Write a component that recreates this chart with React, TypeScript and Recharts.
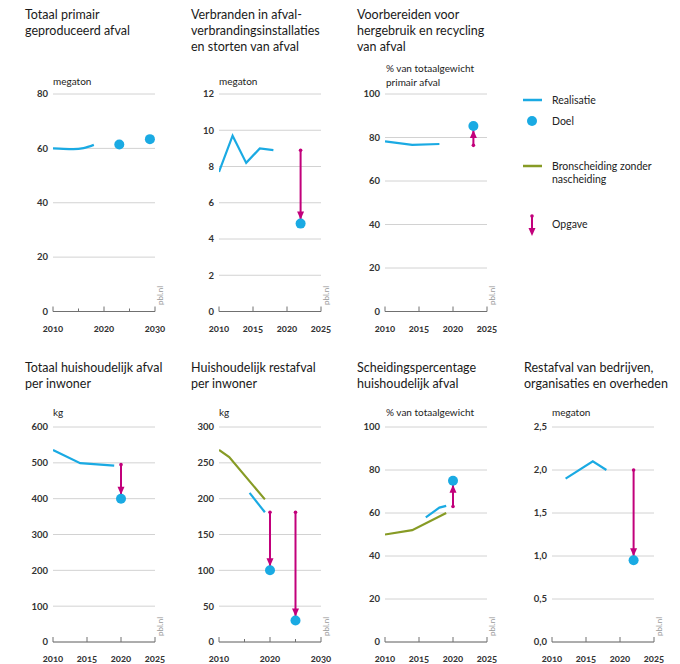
import React from 'react';
import { ComposedChart, Line, XAxis, YAxis, CartesianGrid } from 'recharts';

const BLUE = '#1aaae3';
const GREEN = '#879b25';
const MAGENTA = '#c2007b';
const FONT = 'Lato, "Open Sans", "DejaVu Sans", sans-serif';

// ---- Panel 1: Totaal primair geproduceerd afval (megaton)
const p1RealYears = [2010, 2012, 2014, 2016, 2018];
const p1RealValues = [60, 59.8, 59.7, 60.1, 61.3];
const p1DoelYears = [2023, 2029];
const p1DoelValues = [61.4, 63.4];

// ---- Panel 2: Verbranden in AVI en storten (megaton)
const p2RealYears = [2010, 2012, 2014, 2016, 2018];
const p2RealValues = [7.7, 9.7, 8.2, 9.0, 8.9];
const p2DoelYears = [2022];
const p2DoelValues = [4.85];
const p2Opgave = [{ year: 2022, from: 8.9, to: 4.85 }];

// ---- Panel 3: Voorbereiden voor hergebruik en recycling (%)
const p3RealYears = [2010, 2014, 2018];
const p3RealValues = [78.2, 76.6, 77.0];
const p3DoelYears = [2023];
const p3DoelValues = [85.3];
const p3Opgave = [{ year: 2023, from: 76.4, to: 85.3 }];

// ---- Panel 4: Totaal huishoudelijk afval per inwoner (kg)
const p4RealYears = [2010, 2014, 2019];
const p4RealValues = [536, 499, 492];
const p4DoelYears = [2020];
const p4DoelValues = [400];
const p4Opgave = [{ year: 2020, from: 495, to: 400 }];

// ---- Panel 5: Huishoudelijk restafval per inwoner (kg)
const p5BronYears = [2010, 2012, 2019];
const p5BronValues = [268, 258, 199];
const p5RealYears = [2016, 2019];
const p5RealValues = [208, 181];
const p5DoelYears = [2020, 2025];
const p5DoelValues = [100, 30];
const p5Opgave = [
  { year: 2020, from: 181, to: 100 },
  { year: 2025, from: 181, to: 30 },
];

// ---- Panel 6: Scheidingspercentage huishoudelijk afval (%)
const p6BronYears = [2010, 2014, 2019];
const p6BronValues = [50, 52, 60];
const p6RealYears = [2016, 2018, 2019];
const p6RealValues = [58, 62.5, 63.3];
const p6DoelYears = [2020];
const p6DoelValues = [75];
const p6Opgave = [{ year: 2020, from: 63, to: 75 }];

// ---- Panel 7: Restafval van bedrijven, organisaties en overheden (megaton)
const p7RealYears = [2012, 2016, 2018];
const p7RealValues = [1.9, 2.1, 2.0];
const p7DoelYears = [2022];
const p7DoelValues = [0.95];
const p7Opgave = [{ year: 2022, from: 2.0, to: 0.95 }];

// ---- Axis ticks
const xTicks2030 = [2010, 2015, 2020, 2025, 2030];
const xLabels2030 = [2010, 2020, 2030];
const xTicks2025 = [2010, 2015, 2020, 2025];
const yTicksP1 = [0, 20, 40, 60, 80];
const yTicksP2 = [0, 2, 4, 6, 8, 10, 12];
const yTicksPct = [0, 20, 40, 60, 80, 100];
const yTicksP4 = [0, 100, 200, 300, 400, 500, 600];
const yTicksP5 = [0, 50, 100, 150, 200, 250, 300];
const yTicksP7 = [0, 0.5, 1, 1.5, 2, 2.5];

type Pt = { x: number; y: number };
type Opg = { year: number; from: number; to: number };

const zip = (xs: number[], ys: number[]): Pt[] => xs.map((x, i) => ({ x, y: ys[i] }));

interface PanelProps {
  left: number;
  right: number;
  top: number;
  bottom: number;
  xMax: number;
  xTicks: number[];
  xLabels: number[];
  yMax: number;
  yTicks: number[];
  yFormat?: (v: number) => string;
  real?: Pt[];
  bron?: Pt[];
  doel?: Pt[];
  opgave?: Opg[];
  curve?: 'linear' | 'monotone';
}

function Panel(p: PanelProps) {
  const ML = 45;
  const MR = 22;
  const MT = 10;
  const XH = 24;
  const w = ML + (p.right - p.left) + MR;
  const h = MT + (p.bottom - p.top) + XH;
  const renderXTick = (props: any) => {
    const { x, y, payload } = props;
    const labeled = p.xLabels.includes(payload.value);
    return (
      <g key={`xt-${payload.value}`}>
        <line x1={x} x2={x} y1={y} y2={y - (labeled ? 5 : 3)} stroke="#707070" strokeWidth={1} />
        {labeled && (
          <text
            x={x}
            y={y + 20}
            textAnchor="middle"
            fontSize={9.5}
            fontWeight={700}
            fill="#333"
            fontFamily={FONT}
            style={{ fontVariantNumeric: 'oldstyle-nums' }}
          >
            {payload.value}
          </text>
        )}
      </g>
    );
  };
  const doelDot = (props: any) => {
    const { cx, cy, index } = props;
    return <circle key={`dd-${index}`} cx={cx} cy={cy} r={5} fill={BLUE} stroke="none" />;
  };
  const arrowDot = (props: any) => {
    const { cx, cy, index, payload } = props;
    if (index === 0) {
      return <circle key={`ad-${index}`} cx={cx} cy={cy} r={1.8} fill={MAGENTA} />;
    }
    const dir = payload.dir as number; // 1 = downward, -1 = upward
    const tip = cy - dir * 4;
    const base = cy - dir * 12;
    return (
      <polygon
        key={`ad-${index}`}
        points={`${cx},${tip} ${cx - 3.5},${base} ${cx + 3.5},${base}`}
        fill={MAGENTA}
      />
    );
  };
  return (
    <div style={{ position: 'absolute', left: p.left - ML, top: p.top - MT }}>
      <ComposedChart width={w} height={h} margin={{ top: MT, right: MR, bottom: 0, left: 0 }}>
        <CartesianGrid horizontal vertical={false} stroke="#d2d2d2" strokeWidth={1} />
        <XAxis
          type="number"
          dataKey="x"
          domain={[2010, p.xMax]}
          ticks={p.xTicks}
          interval={0}
          allowDataOverflow
          height={XH}
          axisLine={{ stroke: '#707070', strokeWidth: 1 }}
          tickLine={false}
          tickSize={0}
          tickMargin={0}
          tick={renderXTick}
        />
        <YAxis
          type="number"
          domain={[0, p.yMax]}
          ticks={p.yTicks}
          interval={0}
          allowDataOverflow
          width={ML}
          axisLine={false}
          tickLine={false}
          tickSize={0}
          tickMargin={5}
          tickFormatter={p.yFormat}
          tick={{ fontSize: 9.5, fontWeight: 700, fill: '#333', fontFamily: FONT }}
        />
        {p.bron && (
          <Line
            data={p.bron}
            dataKey="y"
            type="linear"
            stroke={GREEN}
            strokeWidth={2.2}
            dot={false}
            activeDot={false}
            isAnimationActive={false}
          />
        )}
        {p.real && (
          <Line
            data={p.real}
            dataKey="y"
            type={p.curve || 'linear'}
            stroke={BLUE}
            strokeWidth={2.2}
            dot={false}
            activeDot={false}
            isAnimationActive={false}
          />
        )}
        {(p.opgave || []).map((o, i) => (
          <Line
            key={`opg-${i}`}
            data={[
              { x: o.year, y: o.from, dir: o.to < o.from ? 1 : -1 },
              { x: o.year, y: o.to, dir: o.to < o.from ? 1 : -1 },
            ]}
            dataKey="y"
            type="linear"
            stroke={MAGENTA}
            strokeWidth={2}
            dot={arrowDot}
            activeDot={false}
            isAnimationActive={false}
          />
        ))}
        {p.doel && (
          <Line
            data={p.doel}
            dataKey="y"
            type="linear"
            stroke="none"
            dot={doelDot}
            activeDot={false}
            isAnimationActive={false}
          />
        )}
      </ComposedChart>
    </div>
  );
}

const titleStyle = { fontSize: 12.5, fill: '#1a1a1a', fontFamily: FONT };
const unitStyle = { fontSize: 10, fill: '#222', fontFamily: FONT };
const legendStyle = { fontSize: 10.5, fill: '#222', fontFamily: FONT };

function Title({ x, y, lines }: { x: number; y: number; lines: string[] }) {
  return (
    <text x={x} y={y} style={titleStyle}>
      {lines.map((l, i) => (
        <tspan key={i} x={x} y={y + i * 16}>
          {l}
        </tspan>
      ))}
    </text>
  );
}

function Pbl({ x, y }: { x: number; y: number }) {
  return (
    <text
      x={x}
      y={y}
      transform={`rotate(-90 ${x} ${y})`}
      fontSize={8}
      fill="#9a9a9a"
      fontFamily={FONT}
    >
      pbl.nl
    </text>
  );
}

const comma1 = (v: number) => v.toFixed(1).replace('.', ',');

export default function App() {
  const T = 94;
  const B = 311.5;
  const T2 = 427;
  const B2 = 642;
  return (
    <div
      style={{
        position: 'absolute',
        left: 0,
        top: 0,
        width: 680,
        height: 664,
        overflow: 'hidden',
        background: '#fff',
        fontFamily: FONT,
      }}
    >
      <svg width={680} height={664} style={{ position: 'absolute', left: 0, top: 0 }}>
        <Title x={25} y={19} lines={['Totaal primair', 'geproduceerd afval']} />
        <Title x={191} y={19} lines={['Verbranden in afval-', 'verbrandingsinstallaties', 'en storten van afval']} />
        <Title x={357} y={19} lines={['Voorbereiden voor', 'hergebruik en recycling', 'van afval']} />
        <Title x={25} y={372} lines={['Totaal huishoudelijk afval', 'per inwoner']} />
        <Title x={191} y={372} lines={['Huishoudelijk restafval', 'per inwoner']} />
        <Title x={357} y={372} lines={['Scheidingspercentage', 'huishoudelijk afval']} />
        <Title x={524} y={372} lines={['Restafval van bedrijven,', 'organisaties en overheden']} />

        <text x={53} y={84.5} style={unitStyle}>megaton</text>
        <text x={219} y={84.5} style={unitStyle}>megaton</text>
        <text x={386} y={71.5} style={unitStyle}>% van totaalgewicht</text>
        <text x={386} y={85.5} style={unitStyle}>primair afval</text>
        <text x={53} y={416} style={unitStyle}>kg</text>
        <text x={219} y={416} style={unitStyle}>kg</text>
        <text x={386} y={416} style={unitStyle}>% van totaalgewicht</text>
        <text x={552} y={416} style={unitStyle}>megaton</text>

        <Pbl x={163} y={305} />
        <Pbl x={329} y={305} />
        <Pbl x={495} y={305} />
        <Pbl x={163} y={636} />
        <Pbl x={329} y={636} />
        <Pbl x={495} y={636} />
        <Pbl x={662} y={636} />

        {/* Legend */}
        <line x1={523} x2={542} y1={100} y2={100} stroke={BLUE} strokeWidth={2.5} />
        <text x={552} y={103.5} style={legendStyle}>Realisatie</text>
        <circle cx={532} cy={121} r={5} fill={BLUE} />
        <text x={552} y={124.5} style={legendStyle}>Doel</text>
        <line x1={523} x2={542} y1={166} y2={166} stroke={GREEN} strokeWidth={2.5} />
        <text x={552} y={169.5} style={legendStyle}>Bronscheiding zonder</text>
        <text x={552} y={183} style={legendStyle}>nascheiding</text>
        <line x1={532} x2={532} y1={216} y2={230} stroke={MAGENTA} strokeWidth={2} />
        <circle cx={532} cy={216} r={1.8} fill={MAGENTA} />
        <polygon points="532,236 528.5,228 535.5,228" fill={MAGENTA} />
        <text x={552} y={227.5} style={legendStyle}>Opgave</text>
      </svg>

      <Panel
        left={53} right={155} top={T} bottom={B}
        xMax={2030} xTicks={xTicks2030} xLabels={xLabels2030}
        yMax={80} yTicks={yTicksP1}
        real={zip(p1RealYears, p1RealValues)}
        doel={zip(p1DoelYears, p1DoelValues)}
        curve="monotone"
      />
      <Panel
        left={219} right={321} top={T} bottom={B}
        xMax={2025} xTicks={xTicks2025} xLabels={xTicks2025}
        yMax={12} yTicks={yTicksP2}
        real={zip(p2RealYears, p2RealValues)}
        doel={zip(p2DoelYears, p2DoelValues)}
        opgave={p2Opgave}
      />
      <Panel
        left={385} right={487} top={T} bottom={B}
        xMax={2025} xTicks={xTicks2025} xLabels={xTicks2025}
        yMax={100} yTicks={yTicksPct}
        real={zip(p3RealYears, p3RealValues)}
        doel={zip(p3DoelYears, p3DoelValues)}
        opgave={p3Opgave}
      />
      <Panel
        left={53} right={155} top={T2} bottom={B2}
        xMax={2025} xTicks={xTicks2025} xLabels={xTicks2025}
        yMax={600} yTicks={yTicksP4}
        real={zip(p4RealYears, p4RealValues)}
        doel={zip(p4DoelYears, p4DoelValues)}
        opgave={p4Opgave}
      />
      <Panel
        left={219} right={321} top={T2} bottom={B2}
        xMax={2030} xTicks={xTicks2030} xLabels={xLabels2030}
        yMax={300} yTicks={yTicksP5}
        bron={zip(p5BronYears, p5BronValues)}
        real={zip(p5RealYears, p5RealValues)}
        doel={zip(p5DoelYears, p5DoelValues)}
        opgave={p5Opgave}
      />
      <Panel
        left={385} right={487} top={T2} bottom={B2}
        xMax={2025} xTicks={xTicks2025} xLabels={xTicks2025}
        yMax={100} yTicks={yTicksPct}
        bron={zip(p6BronYears, p6BronValues)}
        real={zip(p6RealYears, p6RealValues)}
        doel={zip(p6DoelYears, p6DoelValues)}
        opgave={p6Opgave}
      />
      <Panel
        left={552} right={654} top={T2} bottom={B2}
        xMax={2025} xTicks={xTicks2025} xLabels={xTicks2025}
        yMax={2.5} yTicks={yTicksP7} yFormat={comma1}
        real={zip(p7RealYears, p7RealValues)}
        doel={zip(p7DoelYears, p7DoelValues)}
        opgave={p7Opgave}
      />
    </div>
  );
}
